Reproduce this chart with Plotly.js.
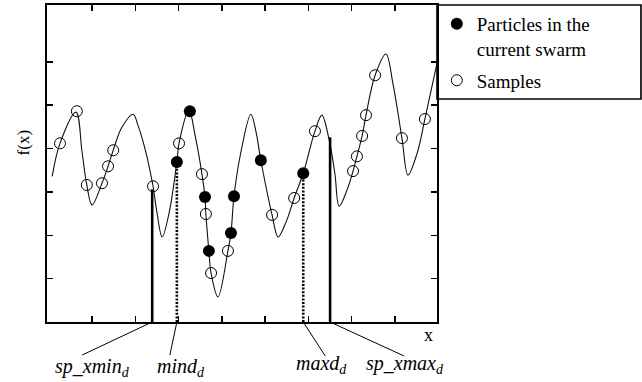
<!DOCTYPE html>
<html>
<head>
<meta charset="utf-8">
<script src="https://cdn.plot.ly/plotly-3.0.1.min.js"></script>
<style>
  html, body { margin: 0; padding: 0; background: #fff; }
  #chart { width: 642px; height: 382px; }
</style>
</head>
<body>
<div id="chart"></div>
<script>
// Objective function f(x) traced along the search dimension
const curveX = [0.08, 0.26, 0.63, 0.77, 0.88, 1.00, 1.23, 1.37, 1.49, 1.69, 1.95, 2.06, 2.22, 2.41, 2.50, 2.62,
                2.78, 2.96, 3.01, 3.24, 3.38, 3.54, 3.61, 3.63, 3.70, 3.75, 3.91, 4.14, 4.21, 4.28, 4.44, 4.67,
                4.79, 4.90, 5.16, 5.30, 5.50, 5.67, 5.88, 6.15, 6.31, 6.47, 6.61, 6.71, 6.89, 7.03, 7.12, 7.24,
                7.33, 7.54, 7.79, 7.95, 8.16, 8.30, 8.51, 8.69, 8.97];
const curveY = [3.36, 4.12, 4.84, 3.92, 3.16, 2.70, 3.20, 3.59, 3.96, 4.49, 4.79, 4.54, 4.01, 3.13, 2.53, 1.96,
                2.51, 3.69, 4.12, 4.88, 4.31, 3.41, 2.88, 2.49, 1.64, 1.13, 0.58, 1.64, 2.05, 2.90, 3.92, 4.79,
                4.38, 3.73, 2.47, 1.96, 2.35, 2.86, 3.43, 4.40, 4.77, 4.24, 3.43, 2.67, 3.04, 3.48, 3.82, 4.29,
                4.77, 5.69, 6.18, 5.51, 4.24, 3.39, 3.89, 4.68, 5.97];

// Stored samples (open circles)
const sampleX = [0.26, 0.65, 0.88, 1.23, 1.37, 1.49, 2.41, 3.01, 3.54, 3.63, 3.75, 4.14, 5.16, 5.67, 6.15,
                 7.03, 7.12, 7.24, 7.33, 7.54, 8.16, 8.69];
const sampleY = [4.12, 4.86, 3.16, 3.20, 3.59, 3.96, 3.13, 4.12, 3.41, 2.49, 1.13, 1.64, 2.47, 2.86, 4.40,
                 3.48, 3.82, 4.29, 4.77, 5.69, 4.24, 4.68];

// Particles of the current swarm (filled circles)
const particleX = [2.96, 3.26, 3.61, 3.70, 4.21, 4.28, 4.90, 5.88];
const particleY = [3.69, 4.86, 2.88, 1.64, 2.05, 2.90, 3.73, 3.43];

// Sub-space bounds along dimension d
const boundNames = ['sp_xmin', 'mind', 'maxd', 'sp_xmax'];
const boundX = [2.39, 2.96, 5.88, 6.50];
const boundTop = [3.06, 3.69, 3.43, 4.26];

const xTicks = [1, 2, 3, 4, 5, 6, 7, 8];
const yTicks = [1, 2, 3, 4, 5, 6];

// Leader-line tails and label centres, in pixels from each bound's foot
const placement = {
  sp_xmin: { ax: -70, ay: 33, dx: -60, dy: 45 },
  mind:    { ax: -7,  ay: 33, dx: 4,   dy: 45 },
  maxd:    { ax: 22,  ay: 34, dx: 18,  dy: 42 },
  sp_xmax: { ax: 74,  ay: 34, dx: 75,  dy: 42 }
};

const traces = [];

traces.push({
  x: curveX, y: curveY, mode: 'lines', showlegend: false, hoverinfo: 'skip',
  line: { shape: 'spline', smoothing: 1, color: '#111', width: 1.1 }
});

boundNames.forEach((name, i) => {
  const solid = name.indexOf('sp_') === 0;
  traces.push({
    x: [boundX[i], boundX[i]], y: [0, boundTop[i]], mode: 'lines',
    showlegend: false, hoverinfo: 'skip',
    line: { color: '#000', width: 2.6, dash: solid ? 'solid' : '2px,1.6px' }
  });
});

traces.push({
  x: particleX, y: particleY, mode: 'markers', name: 'Particles in the<br>current swarm',
  legendgroup: 'swarm',
  marker: { symbol: 'circle', size: 12, color: '#000' }
});

traces.push({
  x: sampleX, y: sampleY, mode: 'markers', name: 'Samples',
  legendgroup: 'samples',
  marker: { symbol: 'circle-open', size: 11, color: '#000', line: { width: 1, color: '#000' } }
});

const axisStyle = {
  showline: true, linecolor: '#000', linewidth: 1.6, mirror: 'ticks',
  ticks: 'inside', ticklen: 6, tickwidth: 1.4, tickcolor: '#000',
  showticklabels: false, showgrid: false, zeroline: false, fixedrange: true
};

// Legend frame plus one leader line per bound (pixel offsets from the bound's foot)
const shapes = [{
  type: 'rect', xref: 'paper', yref: 'paper',
  x0: 1, x1: 1.523, y0: 0.7035, y1: 1,
  line: { color: '#000', width: 1.6 }
}];

const annotations = [];
boundNames.forEach((name, i) => {
  const p = placement[name];
  shapes.push({
    type: 'line', xref: 'x', yref: 'paper',
    xsizemode: 'pixel', xanchor: boundX[i], x0: 0, x1: p.ax,
    ysizemode: 'pixel', yanchor: 0, y0: 0, y1: -p.ay,
    line: { color: '#000', width: 1 }
  });
  annotations.push({
    x: boundX[i], y: 0, xref: 'x', yref: 'y',
    text: '<i>' + name + '<sub>d</sub></i>', showarrow: false,
    xanchor: 'center', yanchor: 'middle', xshift: p.dx, yshift: -p.dy,
    font: { family: 'Liberation Serif', size: 20, color: '#000' }
  });
});

annotations.push({
  xref: 'paper', yref: 'paper', x: 0.977, y: 0, yshift: -13,
  xanchor: 'center', yanchor: 'middle', showarrow: false, text: 'x',
  font: { family: 'Liberation Serif', size: 18, color: '#000' }
});
annotations.push({
  xref: 'paper', yref: 'paper', x: 0, y: 0.565, xshift: -23.5,
  xanchor: 'center', yanchor: 'middle', showarrow: false, text: 'f(x)', textangle: -90,
  font: { family: 'Liberation Serif', size: 17, color: '#000' }
});

const layout = {
  width: 642, height: 382,
  margin: { l: 47, r: 205, t: 5, b: 60, pad: 0 },
  paper_bgcolor: '#fff', plot_bgcolor: '#fff',
  font: { family: 'Liberation Serif', color: '#000' },
  xaxis: Object.assign({ range: [-0.04, 8.97], tickvals: xTicks }, axisStyle),
  yaxis: Object.assign({ range: [0, 7.31], tickvals: yTicks }, axisStyle),
  showlegend: true,
  legend: {
    x: 0.9995, xanchor: 'left', y: 1, yanchor: 'top',
    bgcolor: 'rgba(0,0,0,0)', borderwidth: 0, valign: 'top',
    font: { family: 'Liberation Serif', size: 19, color: '#000' },
    tracegroupgap: 4
  },
  shapes: shapes,
  annotations: annotations
};

Plotly.newPlot('chart', traces, layout, { displayModeBar: false, staticPlot: true });
</script>
</body>
</html>
